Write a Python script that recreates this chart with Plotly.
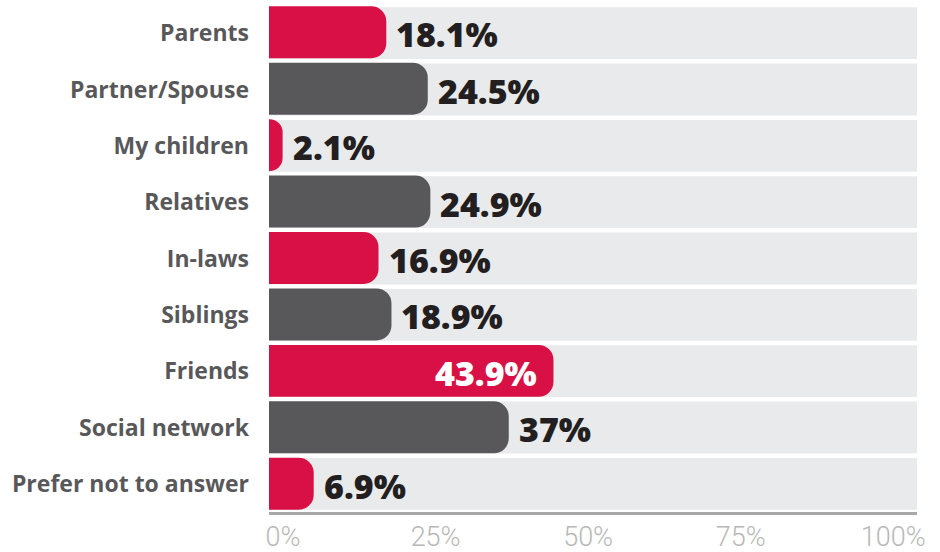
import plotly.graph_objects as go

# Survey answers, top to bottom
categories = [
    "Parents", "Partner/Spouse", "My children", "Relatives", "In-laws",
    "Siblings", "Friends", "Social network", "Prefer not to answer",
]
values = [18.1, 24.5, 2.1, 24.9, 16.9, 18.9, 43.9, 37, 6.9]
full_scale = [100] * len(categories)
tick_values = [0, 25, 50, 75, 100]
tick_labels = ["0%", "25%", "50%", "75%", "100%"]

RED = "#D81045"
GREY = "#58585B"
BAND = "#E9EAEC"
bar_colors = [RED if i % 2 == 0 else GREY for i in range(len(categories))]

fig = go.Figure()

# light background track behind every row (square ends)
fig.add_trace(go.Bar(
    y=categories, x=full_scale, orientation="h",
    xaxis="x", yaxis="y",
    marker=dict(color=BAND, line=dict(width=0)),
    hoverinfo="skip", showlegend=False,
))

# invisible trace carrying the percentage tick axis
fig.add_trace(go.Scatter(
    x=[tick_values[0], tick_values[-1]], y=[categories[0], categories[0]],
    xaxis="x2", yaxis="y", mode="markers", marker=dict(opacity=0),
    hoverinfo="skip", showlegend=False,
))

# value bars with rounded ends, on an overlaid category axis
fig.add_trace(go.Bar(
    y=categories, x=values, orientation="h",
    xaxis="x", yaxis="y2",
    marker=dict(color=bar_colors, line=dict(width=0), cornerradius=15),
    showlegend=False,
))

# value labels: outside the bar, or inside in white for the longest bar
longest = max(values)
for cat, v in zip(categories, values):
    inside = v == longest
    fig.add_annotation(
        x=v, y=cat, xref="x", yref="y2",
        text=f"{v:g}%", showarrow=False,
        xanchor="right" if inside else "left",
        xshift=-14 if inside else 8, yshift=-2,
        font=dict(family="Open Sans", size=34, weight=800,
                  color="white" if inside else "#231F20"),
    )

cat_axis = dict(
    categoryorder="array", categoryarray=categories,
    autorange="reversed", showgrid=False, zeroline=False,
    ticks="", automargin=False,
)

fig.update_layout(
    width=940, height=552,
    margin=dict(l=269, r=23, t=4, b=40),
    paper_bgcolor="white", plot_bgcolor="white",
    barmode="group", bargap=0.08,
    xaxis=dict(
        range=[0, 100], showgrid=False, zeroline=False,
        showticklabels=False, ticks="", automargin=False,
        showline=True, linecolor="#A8A8A8", linewidth=3,
    ),
    xaxis2=dict(
        overlaying="x", anchor="y", side="bottom",
        range=[-2.3, 103.9], showgrid=False, zeroline=False,
        showline=False, ticks="", ticklabelstandoff=6, automargin=False,
        tickvals=tick_values, ticktext=tick_labels,
        tickfont=dict(family="Roboto", size=27, weight=300, color="#B8B8B8"),
    ),
    yaxis=dict(
        **cat_axis, ticklabelstandoff=19,
        tickfont=dict(family="Open Sans", size=23, weight="bold", color="#58585A"),
    ),
    yaxis2=dict(**cat_axis, overlaying="y", anchor="x", showticklabels=False),
    hovermode=False,
)

fig.write_html("out.html")
